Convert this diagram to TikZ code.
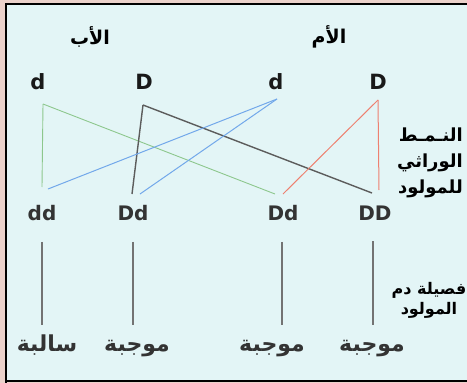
\documentclass[tikz,border=0pt]{standalone}
\usepackage{fontspec}
\setmainfont{DejaVu Sans}
\newfontfamily\arabicfont[Script=Arabic]{DejaVu Sans}
\TeXXeTstate=1
\definecolor{bgcyan}{HTML}{E3F5F6}
\definecolor{edgepink}{HTML}{EBD2CB}
\definecolor{lgreen}{HTML}{8DC78D}
\definecolor{lblue}{HTML}{72A8EA}
\definecolor{lred}{HTML}{EE8070}
\definecolor{dgray}{HTML}{5C5C5C}
\tikzset{
  allele/.style={font=\bfseries\fontsize{21}{21}\selectfont, inner sep=0, text=black!90},
  geno/.style={font=\bfseries\fontsize{20}{20}\selectfont, inner sep=0, text=black!80},
  arlabel/.style={font=\arabicfont\bfseries\fontsize{18}{26}\selectfont, inner sep=0},
  pheno/.style={font=\arabicfont\bfseries\fontsize{22}{22}\selectfont, inner sep=0,
    text height=14pt, text depth=6pt, text=black!80},
  cross/.style={line width=1pt},
  bar/.style={black!55, line width=1.6pt}
}
\begin{document}
\begin{tikzpicture}[x=1pt, y=-1pt]
  \useasboundingbox (0,0) rectangle (467,383);
  % frame and background
  \fill[edgepink] (0,0) rectangle (467,383);
  \fill[bgcyan] (6,4) rectangle (467,381);
  \draw[line width=2.4pt] (6,383) -- (6,4) -- (467,4);
  \draw[line width=2pt] (6,381) -- (467,381);

  % parents
  \node[arlabel, font=\arabicfont\bfseries\fontsize{19}{19}\selectfont] (father) at (90,37) {\beginR الأب\endR};
  \node[arlabel, font=\arabicfont\bfseries\fontsize{19}{19}\selectfont] (mother) at (329,37) {\beginR الأم\endR};
  \node[allele] (fd) at (38,82) {d};
  \node[allele] (fD) at (144,82) {D};
  \node[allele] (md) at (276,82) {d};
  \node[allele] (mD) at (378,82) {D};

  % genotypes of the child
  \node[geno] (g1) at (42,213) {dd};
  \node[geno] (g2) at (133,213) {Dd};
  \node[geno] (g3) at (283,213) {Dd};
  \node[geno] (g4) at (375,213) {DD};
  \node[arlabel, align=right, anchor=east] (genlbl) at (463,163)
    {\beginR النـمـط\endR\\ \beginR الوراثي\endR\\ \beginR للمولود\endR};

  % blood groups
  \node[pheno] (p1) at (47,347) {\beginR سالبة\endR};
  \node[pheno] (p2) at (137,347) {\beginR موجبة\endR};
  \node[pheno] (p3) at (272,347) {\beginR موجبة\endR};
  \node[pheno] (p4) at (372,347) {\beginR موجبة\endR};
  \node[arlabel, align=center, font=\arabicfont\bfseries\fontsize{16}{20}\selectfont] (bloodlbl) at (429,300)
    {\beginR فصيلة دم\endR\\ \beginR المولود\endR};

  % line ends
  \coordinate (fd-o) at (43,104);
  \coordinate (fD-o) at (143,105);
  \coordinate (md-o) at (277,99);
  \coordinate (mD-o) at (378,100);
  \coordinate (g1-a) at (42,187);
  \coordinate (g1-b) at (48,189);
  \coordinate (g2-a) at (132,194);
  \coordinate (g2-b) at (140,194);
  \coordinate (g3-a) at (275,194);
  \coordinate (g3-b) at (283,194);
  \coordinate (g4-a) at (372,193);
  \coordinate (g4-b) at (379,190);

  \foreach \from/\to/\col/\w in {fd-o/g1-a/lgreen/0.9, fd-o/g3-a/lgreen/0.9,
      fD-o/g2-a/dgray/1.4, fD-o/g4-a/dgray/1.4,
      md-o/g1-b/lblue/1, md-o/g2-b/lblue/1,
      mD-o/g3-b/lred/1, mD-o/g4-b/lred/1}
    \draw[cross, \col, line width=\w pt] (\from) -- (\to);

  \foreach \i/\dx in {1/0,2/0,3/-1,4/-2}
    \draw[bar, shorten <=21pt, shorten >=12pt] ([xshift=\dx pt]g\i.south) -- ([xshift=\dx pt]g\i.south |- p\i.north);
\end{tikzpicture}
\end{document}
